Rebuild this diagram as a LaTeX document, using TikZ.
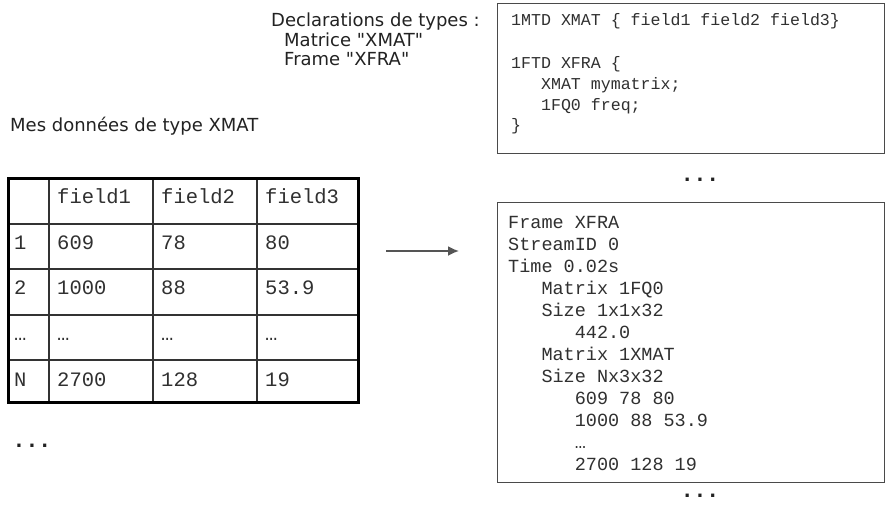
\documentclass[tikz,border=0pt]{standalone}
\usepackage{fontspec}
\setmainfont{DejaVu Sans}
\newfontfamily\lblfam{DejaVu Sans}
\newfontfamily\monofam{Liberation Mono}
\usetikzlibrary{arrows.meta}
\definecolor{boxgray}{HTML}{4A4A4A}
\definecolor{txt}{HTML}{222222}
\definecolor{codetxt}{HTML}{303030}
\definecolor{gridgray}{HTML}{333333}
\definecolor{arrgray}{HTML}{555555}
\newcommand{\lblfont}{\lblfam\fontsize{18}{20}\selectfont}
\newcommand{\codeAfont}{\monofam\fontsize{16.6}{20}\selectfont}
\newcommand{\codeBfont}{\monofam\fontsize{18.5}{22}\selectfont}
\newcommand{\cellfont}{\monofam\fontsize{20.5}{22}\selectfont}
\newcommand{\indA}{\hspace*{29.9pt}}
\newcommand{\indB}{\hspace*{33.3pt}}
\newcommand{\dotsbig}{\textbf{.}\kern6pt\textbf{.}\kern6pt\textbf{.}}
\tikzset{
  lbl/.style={font=\lblfont, text=txt, anchor=base west, inner sep=0pt},
  codea/.style={font=\codeAfont, text=codetxt, anchor=base west, inner sep=0pt},
  codeb/.style={font=\codeBfont, text=codetxt, anchor=base west, inner sep=0pt},
  cell/.style={font=\cellfont, text=codetxt, anchor=base west, inner sep=0pt},
  codebox/.style={draw=boxgray, line width=1.3pt, anchor=north west, inner sep=0pt},
  dotlbl/.style={font=\lblfont, text=txt, anchor=center, inner sep=0pt},
  gridline/.style={draw=gridgray, line width=1.2pt},
}
\begin{document}
\begin{tikzpicture}[x=1pt,y=-1pt]
\useasboundingbox[fill=white] (0,0) rectangle (886,506);

% declarations label
\node[lbl] (d1) at (271,26) {Declarations de types :};
\node[lbl] (d2) at (284,46) {Matrice "XMAT"};
\node[lbl] (d3) at (284,65) {Frame "XFRA"};

% top code box
\node[codebox, minimum width=387pt, minimum height=150pt] (topbox) at (497,3) {};
\node[codea] (t1) at (511,25) {1MTD XMAT \{ field1 field2 field3\}};
\node[codea] (t2) at (511,68) {1FTD XFRA \{};
\node[codea] (t3) at (511,89) {\indA XMAT mymatrix;};
\node[codea] (t4) at (511,110) {\indA 1FQ0 freq;};
\node[codea] (t5) at (511,130) {\}};

\node[dotlbl] (dots1) at (700,180) {\dotsbig};

% bottom code box
\node[codebox, minimum width=387pt, minimum height=280pt] (botbox) at (497,202) {};
\node[codeb] (b1) at (508,228) {Frame XFRA};
\node[codeb] (b2) at (508,250) {StreamID 0};
\node[codeb] (b3) at (508,272) {Time 0.02s};
\node[codeb] (b4) at (508,294) {\indB Matrix 1FQ0};
\node[codeb] (b5) at (508,316) {\indB Size 1x1x32};
\node[codeb] (b6) at (508,338) {\indB\indB 442.0};
\node[codeb] (b7) at (508,360) {\indB Matrix 1XMAT};
\node[codeb] (b8) at (508,382) {\indB Size Nx3x32};
\node[codeb] (b9) at (508,404) {\indB\indB 609 78 80};
\node[codeb] (b10) at (508,426) {\indB\indB 1000 88 53.9};
\node[codeb] (b11) at (508,448) {\indB\indB …};
\node[codeb] (b12) at (508,470) {\indB\indB 2700 128 19};

\node[dotlbl] (dots2) at (700,496) {\dotsbig};

% table label
\node[lbl] (mes) at (10,131) {Mes données de type XMAT};

% table grid
\foreach \yy in {224,269,315,360} \draw[gridline] (8,\yy) -- (358,\yy);
\foreach \xx in {49,153,257} \draw[gridline] (\xx,178) -- (\xx,402);
\draw[black, line width=3pt] (8,178) rectangle (358,402);

% table cells
\node[cell] (h1) at (57,203) {field1};
\node[cell] (h2) at (161,203) {field2};
\node[cell] (h3) at (265,203) {field3};
\node[cell] (r1c0) at (14,249) {1};
\node[cell] (r1c1) at (57,249) {609};
\node[cell] (r1c2) at (161,249) {78};
\node[cell] (r1c3) at (265,249) {80};
\node[cell] (r2c0) at (14,294) {2};
\node[cell] (r2c1) at (57,294) {1000};
\node[cell] (r2c2) at (161,294) {88};
\node[cell] (r2c3) at (265,294) {53.9};
\node[cell] (r3c0) at (14,340) {…};
\node[cell] (r3c1) at (57,340) {…};
\node[cell] (r3c2) at (161,340) {…};
\node[cell] (r3c3) at (265,340) {…};
\node[cell] (r4c0) at (14,386) {N};
\node[cell] (r4c1) at (57,386) {2700};
\node[cell] (r4c2) at (161,386) {128};
\node[cell] (r4c3) at (265,386) {19};

\node[dotlbl] (dots0) at (32,446) {\dotsbig};

% arrow
\coordinate (arrS) at (386,251);
\coordinate (arrE) at (459,251);
\draw[arrgray, line width=1.8pt, -{Latex[length=11pt,width=10pt]}] (arrS) -- (arrE);
\end{tikzpicture}
\end{document}
